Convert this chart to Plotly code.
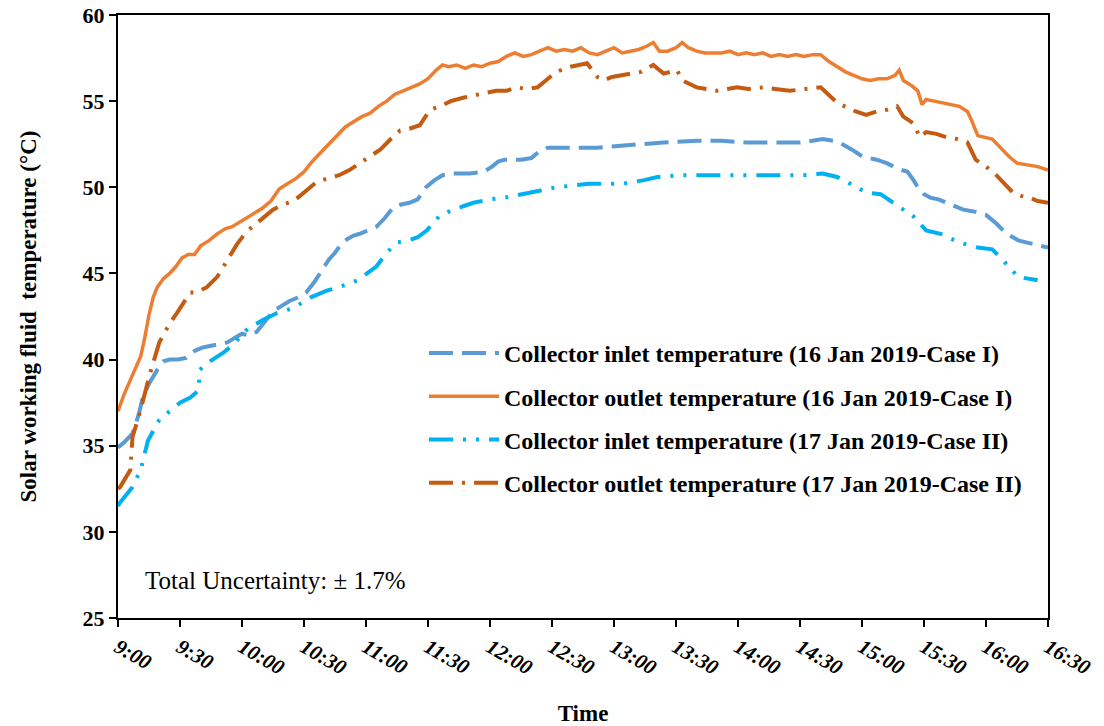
import plotly.graph_objects as go

# Time in minutes after 9:00
tick_vals = [0, 30, 60, 90, 120, 150, 180, 210, 240, 270, 300, 330, 360, 390, 420, 450]
tick_text = ["9:00", "9:30", "10:00", "10:30", "11:00", "11:30", "12:00", "12:30",
             "13:00", "13:30", "14:00", "14:30", "15:00", "15:30", "16:00", "16:30"]

# Collector outlet temperature (16 Jan 2019 - Case I)
out1_t = [0, 3, 7, 11, 13, 15, 17, 19, 22, 25, 28, 31, 34, 37, 40, 44, 48, 52, 55, 58,
          62, 66, 70, 74, 78, 82, 86, 90, 94, 98, 102, 106, 110, 114, 118, 122, 126, 130,
          134, 138, 142, 146, 150, 154, 157, 160, 164, 168, 172, 176, 180, 184, 188, 192,
          196, 200, 204, 208, 212, 216, 220, 224, 228, 232, 236, 240, 244, 248, 252, 256,
          259, 262, 266, 270, 273, 276, 280, 284, 288, 292, 296, 300, 304, 308, 312, 316,
          320, 324, 328, 332, 336, 340, 344, 348, 352, 356, 360, 364, 368, 372, 376, 378,
          380, 384, 387, 389, 391, 395, 399, 403, 407, 411, 413, 416, 420, 423, 427, 431,
          435, 440, 445, 450]
out1_v = [37.0, 38.0, 39.1, 40.2, 41.3, 42.6, 43.6, 44.2, 44.7, 45.0, 45.4, 45.9, 46.1,
          46.1, 46.6, 46.9, 47.3, 47.6, 47.7, 47.9, 48.2, 48.5, 48.8, 49.2, 49.9, 50.2,
          50.5, 50.9, 51.5, 52.0, 52.5, 53.0, 53.5, 53.8, 54.1, 54.3, 54.7, 55.0, 55.4,
          55.6, 55.8, 56.0, 56.3, 56.8, 57.1, 57.0, 57.1, 56.9, 57.1, 57.0, 57.2, 57.3,
          57.6, 57.8, 57.6, 57.7, 57.9, 58.1, 57.9, 58.0, 57.9, 58.1, 57.8, 57.7, 57.9,
          58.1, 57.8, 57.9, 58.0, 58.2, 58.4, 57.9, 57.9, 58.1, 58.4, 58.1, 57.9, 57.8,
          57.8, 57.8, 57.9, 57.7, 57.8, 57.7, 57.8, 57.6, 57.7, 57.6, 57.7, 57.6, 57.7,
          57.7, 57.3, 57.0, 56.7, 56.5, 56.3, 56.2, 56.3, 56.3, 56.5, 56.8, 56.2, 55.9,
          55.6, 54.8, 55.1, 55.0, 54.9, 54.8, 54.7, 54.4, 53.9, 53.0, 52.9, 52.8, 52.3,
          51.8, 51.4, 51.3, 51.2, 51.0]

# Collector inlet temperature (16 Jan 2019 - Case I)
in1_t = [0, 3, 7, 10, 12, 15, 19, 22, 25, 29, 33, 37, 41, 45, 49, 53, 57, 60, 63, 67,
         71, 75, 79, 83, 87, 91, 95, 99, 102, 105, 108, 111, 114, 117, 121, 125, 129, 133,
         137, 141, 145, 149, 153, 157, 161, 165, 170, 177, 181, 184, 187, 191, 195, 200,
         204, 208, 212, 220, 232, 242, 251, 264, 280, 292, 304, 319, 330, 336, 341, 346,
         349, 355, 360, 367, 372, 377, 382, 385, 387, 390, 393, 397, 401, 405, 409, 414,
         420, 425, 430, 436, 443, 450]
in1_v = [34.9, 35.2, 35.7, 36.8, 37.8, 38.6, 39.4, 39.9, 40.0, 40.0, 40.1, 40.5, 40.7,
         40.8, 40.9, 41.0, 41.3, 41.5, 41.4, 41.6, 42.2, 42.8, 43.1, 43.4, 43.6, 43.9,
         44.5, 45.2, 45.8, 46.2, 46.7, 47.0, 47.2, 47.3, 47.5, 47.7, 48.2, 48.8, 49.0,
         49.1, 49.3, 50.0, 50.4, 50.7, 50.8, 50.8, 50.8, 50.9, 51.2, 51.5, 51.6, 51.6,
         51.6, 51.7, 52.1, 52.3, 52.3, 52.3, 52.3, 52.4, 52.5, 52.6, 52.7, 52.7, 52.6,
         52.6, 52.6, 52.7, 52.8, 52.7, 52.6, 52.2, 51.8, 51.6, 51.4, 51.1, 50.9, 50.4,
         50.0, 49.6, 49.4, 49.3, 49.1, 48.9, 48.7, 48.6, 48.4, 47.9, 47.3, 46.9, 46.7,
         46.5]

# Collector inlet temperature (17 Jan 2019 - Case II)
in2_t = [0, 1, 7, 11, 14.5, 20, 25, 30, 35, 38, 39, 39.5, 44.5, 51, 56, 62, 70, 77, 85,
         93, 101, 107, 116, 125, 130, 135, 140, 145, 149.5, 156, 162, 167, 172, 180, 187,
         194.5, 204, 212, 220, 228, 237, 244, 254, 261, 272, 288, 300, 312, 322, 332,
         341, 348, 356, 362, 369, 378, 385, 391, 398, 407, 416, 423, 428, 435.5, 445]
in2_v = [31.5, 31.7, 32.6, 33.6, 35.3, 36.5, 37.0, 37.5, 37.8, 38.1, 38.2, 39.4, 39.9,
         40.4, 40.9, 41.7, 42.3, 42.7, 43.0, 43.6, 44.0, 44.2, 44.6, 45.4, 46.2, 46.8,
         46.9, 47.1, 47.5, 48.4, 48.7, 48.9, 49.1, 49.3, 49.4, 49.6, 49.8, 50.0, 50.1,
         50.2, 50.2, 50.2, 50.4, 50.6, 50.7, 50.7, 50.7, 50.7, 50.7, 50.7, 50.8, 50.6,
         50.1, 49.7, 49.6, 48.9, 48.3, 47.5, 47.3, 46.8, 46.5, 46.4, 45.8, 44.8, 44.6]

# Collector outlet temperature (17 Jan 2019 - Case II)
out2_t = [0, 1, 6, 7, 11, 15.5, 20, 25, 28.5, 35, 38, 43, 48, 54, 57.6, 62, 68, 75, 80,
          85, 90, 96, 101, 107, 112, 117, 122, 127, 132, 136.5, 141, 146, 151, 156, 161,
          167, 175, 183, 188, 193, 198, 203, 207, 212, 219, 223, 227, 232, 235, 239, 243,
          248, 253, 259, 264, 270.5, 273, 280, 285, 290, 295, 299.5, 305, 312, 318, 325,
          332, 340, 348, 353, 357, 362, 367, 372, 377, 380, 385, 388, 391, 396, 401, 406,
          411, 415, 420, 425, 429, 433, 437, 441, 445, 450]
out2_v = [32.5, 32.6, 33.6, 35.5, 37.1, 39.2, 41.0, 42.1, 42.7, 43.9, 43.9, 44.2, 44.8,
          46.0, 46.7, 47.4, 48.0, 48.7, 49.0, 49.2, 49.7, 50.3, 50.5, 50.7, 51.0, 51.4,
          51.8, 52.2, 52.8, 53.3, 53.4, 53.6, 54.5, 54.7, 55.0, 55.2, 55.4, 55.6, 55.6,
          55.8, 55.7, 55.8, 56.2, 56.7, 57.0, 57.1, 57.2, 56.4, 56.2, 56.4, 56.5, 56.6,
          56.7, 57.1, 56.6, 56.8, 56.2, 55.8, 55.7, 55.6, 55.7, 55.8, 55.7, 55.8, 55.7,
          55.6, 55.7, 55.8, 54.9, 54.6, 54.4, 54.2, 54.4, 54.5, 54.7, 54.1, 53.7, 52.9,
          53.2, 53.1, 52.9, 52.8, 52.6, 51.6, 51.2, 50.7, 50.2, 49.7, 49.5, 49.4, 49.2,
          49.1]

SERIF = "Liberation Serif"

fig = go.Figure()
fig.add_trace(go.Scatter(
    x=in1_t, y=in1_v, mode="lines", name="Collector inlet temperature (16 Jan 2019-Case I)",
    line=dict(color="#5B9BD5", width=4, dash="24px,9px"), legendgroup="a"))
fig.add_trace(go.Scatter(
    x=out1_t, y=out1_v, mode="lines", name="Collector outlet temperature (16 Jan 2019-Case I)",
    line=dict(color="#ED7D31", width=3.5), legendgroup="b"))
fig.add_trace(go.Scatter(
    x=in2_t, y=in2_v, mode="lines", name="Collector inlet temperature (17 Jan 2019-Case II)",
    line=dict(color="#00B0F0", width=4, dash="24px,10px,3px,10px,3px,10px"), legendgroup="c"))
fig.add_trace(go.Scatter(
    x=out2_t, y=out2_v, mode="lines", name="Collector outlet temperature (17 Jan 2019-Case II)",
    line=dict(color="#C55A11", width=4, dash="24px,9px,3px,9px"), legendgroup="d"))

fig.update_layout(
    width=1104, height=726,
    margin=dict(l=118, r=56, t=15, b=108),
    paper_bgcolor="white", plot_bgcolor="white",
    font=dict(family=SERIF, color="black"),
    legend=dict(
        x=(424 - 118) / 930, y=0.476, xanchor="left", yanchor="top",
        font=dict(family=SERIF, size=24, weight="bold", color="black"),
        traceorder="grouped", tracegroupgap=9, bgcolor="rgba(0,0,0,0)",
        itemwidth=70,
    ),
    showlegend=True,
    annotations=[dict(
        text="Total Uncertainty: ± 1.7%", xref="paper", yref="paper",
        x=(143 - 118) / 930, y=(618 - 580) / 603, xanchor="left", yanchor="middle",
        showarrow=False, font=dict(family=SERIF, size=25, color="black"))],
)

fig.update_xaxes(
    range=[0, 450], tickmode="array", tickvals=tick_vals, ticktext=tick_text,
    tickangle=30, ticks="outside", ticklen=7, tickwidth=2, tickcolor="black",
    showline=True, linewidth=2, linecolor="black", mirror=True, showgrid=False, zeroline=False,
    tickfont=dict(family=SERIF, size=21, weight="bold", style="italic", color="black"),
    title=dict(text="Time", font=dict(family=SERIF, size=23, weight="bold", color="black"),
               standoff=32),
    automargin=False,
)
fig.update_yaxes(
    range=[25, 60], dtick=5, tick0=25, ticks="outside", ticklen=7, tickwidth=2, tickcolor="black",
    showline=True, linewidth=2, linecolor="black", mirror=True, showgrid=False, zeroline=False,
    tickfont=dict(family=SERIF, size=22, weight="bold", color="black"),
    title=dict(text="Solar working fluid  temperature (°C)",
               font=dict(family=SERIF, size=23, weight="bold", color="black"), standoff=40),
    automargin=False,
)

fig.write_html("out.html")
